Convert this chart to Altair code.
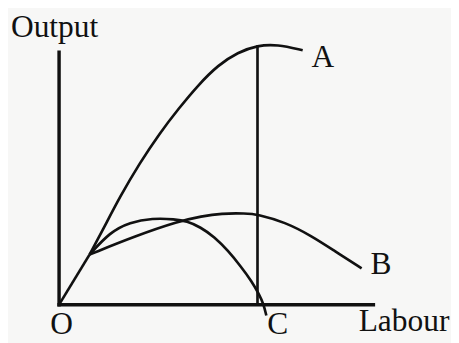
import altair as alt
import pandas as pd

# ---- data (x = labour, y = output) ----
ray_x = [0, 31]
ray_y = [0, 51]

a_x = [31, 45, 62, 82, 102, 122, 142, 162, 182, 202, 222, 248]
a_y = [51, 77, 110, 144, 174, 200, 224, 244, 257, 264, 265, 259]

b_x = [31, 78, 122, 145, 165, 190, 202, 230, 257, 280, 308]
b_y = [51, 70, 85, 90, 93, 93, 92, 84, 70, 55, 37]

c_x = [31, 52, 72, 95, 118, 130, 144, 158, 172, 185, 196, 204, 208, 211]
c_y = [51, 74, 84, 88, 87, 85, 79, 69, 55, 39, 24, 10, 1, -11]

vline_x = 202
vline_top = 264

x_max = 320
y_max = 257

curve_names = ["A", "B", "C"]
axis_titles = ["Output", "Labour"]
origin_label = "O"

INK = "#111111"
FONT = "Liberation Serif"

# ---- tables ----
rows = []
for name, xs, ys in [("ray", ray_x, ray_y), ("A", a_x, a_y), ("B", b_x, b_y), ("C", c_x, c_y)]:
    for i, (xv, yv) in enumerate(zip(xs, ys)):
        rows.append({"curve": name, "order": i, "x": xv, "y": yv})
df_curves = pd.DataFrame(rows)
df_ray = df_curves[df_curves.curve == "ray"]
df_smooth = df_curves[df_curves.curve != "ray"]

df_vline = pd.DataFrame({"x": [vline_x], "y": [0], "x2": [vline_x], "y2": [vline_top]})
df_axes = pd.DataFrame({"x": [0, 0], "y": [0, 0], "x2": [x_max, 0], "y2": [0, y_max]})

xscale = alt.Scale(domain=[0, x_max], nice=False, zero=False)
yscale = alt.Scale(domain=[0, y_max], nice=False, zero=False)


def X(field="x:Q"):
    return alt.X(field, scale=xscale, axis=None)


def Y(field="y:Q"):
    return alt.Y(field, scale=yscale, axis=None)


axes = alt.Chart(df_axes).mark_rule(strokeWidth=3.5, color=INK, strokeCap="square").encode(
    x=X(), y=Y(), x2="x2:Q", y2="y2:Q"
)

curves = alt.Chart(df_smooth).mark_line(
    interpolate="basis", strokeWidth=2.7, color=INK
).encode(
    x=X(), y=Y(), detail="curve:N", order="order:Q",
)

ray = alt.Chart(df_ray).mark_line(strokeWidth=2.7, color=INK).encode(
    x=X(), y=Y(), order="order:Q",
)

vline = alt.Chart(df_vline).mark_rule(strokeWidth=2.7, color=INK).encode(
    x=X(), y=Y(), x2="x2:Q", y2="y2:Q",
)

# labels anchored at points of the diagram
labels = [
    (curve_names[0], a_x[-1], a_y[-1], 9, 17),
    (curve_names[1], b_x[-1], b_y[-1], 9, 6),
    (curve_names[2], vline_x, 0, 10, 30),
    (origin_label, 0, 0, -9, 30),
    (axis_titles[0], 0, y_max, -49, -15),
    (axis_titles[1], x_max, 0, -15, 27),
]

layers = [axes, curves, ray, vline]
for text, lx, ly, dx, dy in labels:
    d = pd.DataFrame({"x": [lx], "y": [ly], "t": [text]})
    layers.append(
        alt.Chart(d).mark_text(
            font=FONT, fontSize=32, color=INK, align="left",
            baseline="alphabetic", dx=dx, dy=dy
        ).encode(x=X(), y=Y(), text="t:N")
    )

chart = alt.layer(*layers).properties(
    width=320,
    height=257,
    autosize=alt.AutoSizeParams(type="none"),
    padding={"left": 52, "top": 42, "right": 79, "bottom": 36},
    background="#f7f7f6",
).configure_view(stroke=None)

chart.save("out.html", embed_options={"renderer": "svg", "actions": False})
